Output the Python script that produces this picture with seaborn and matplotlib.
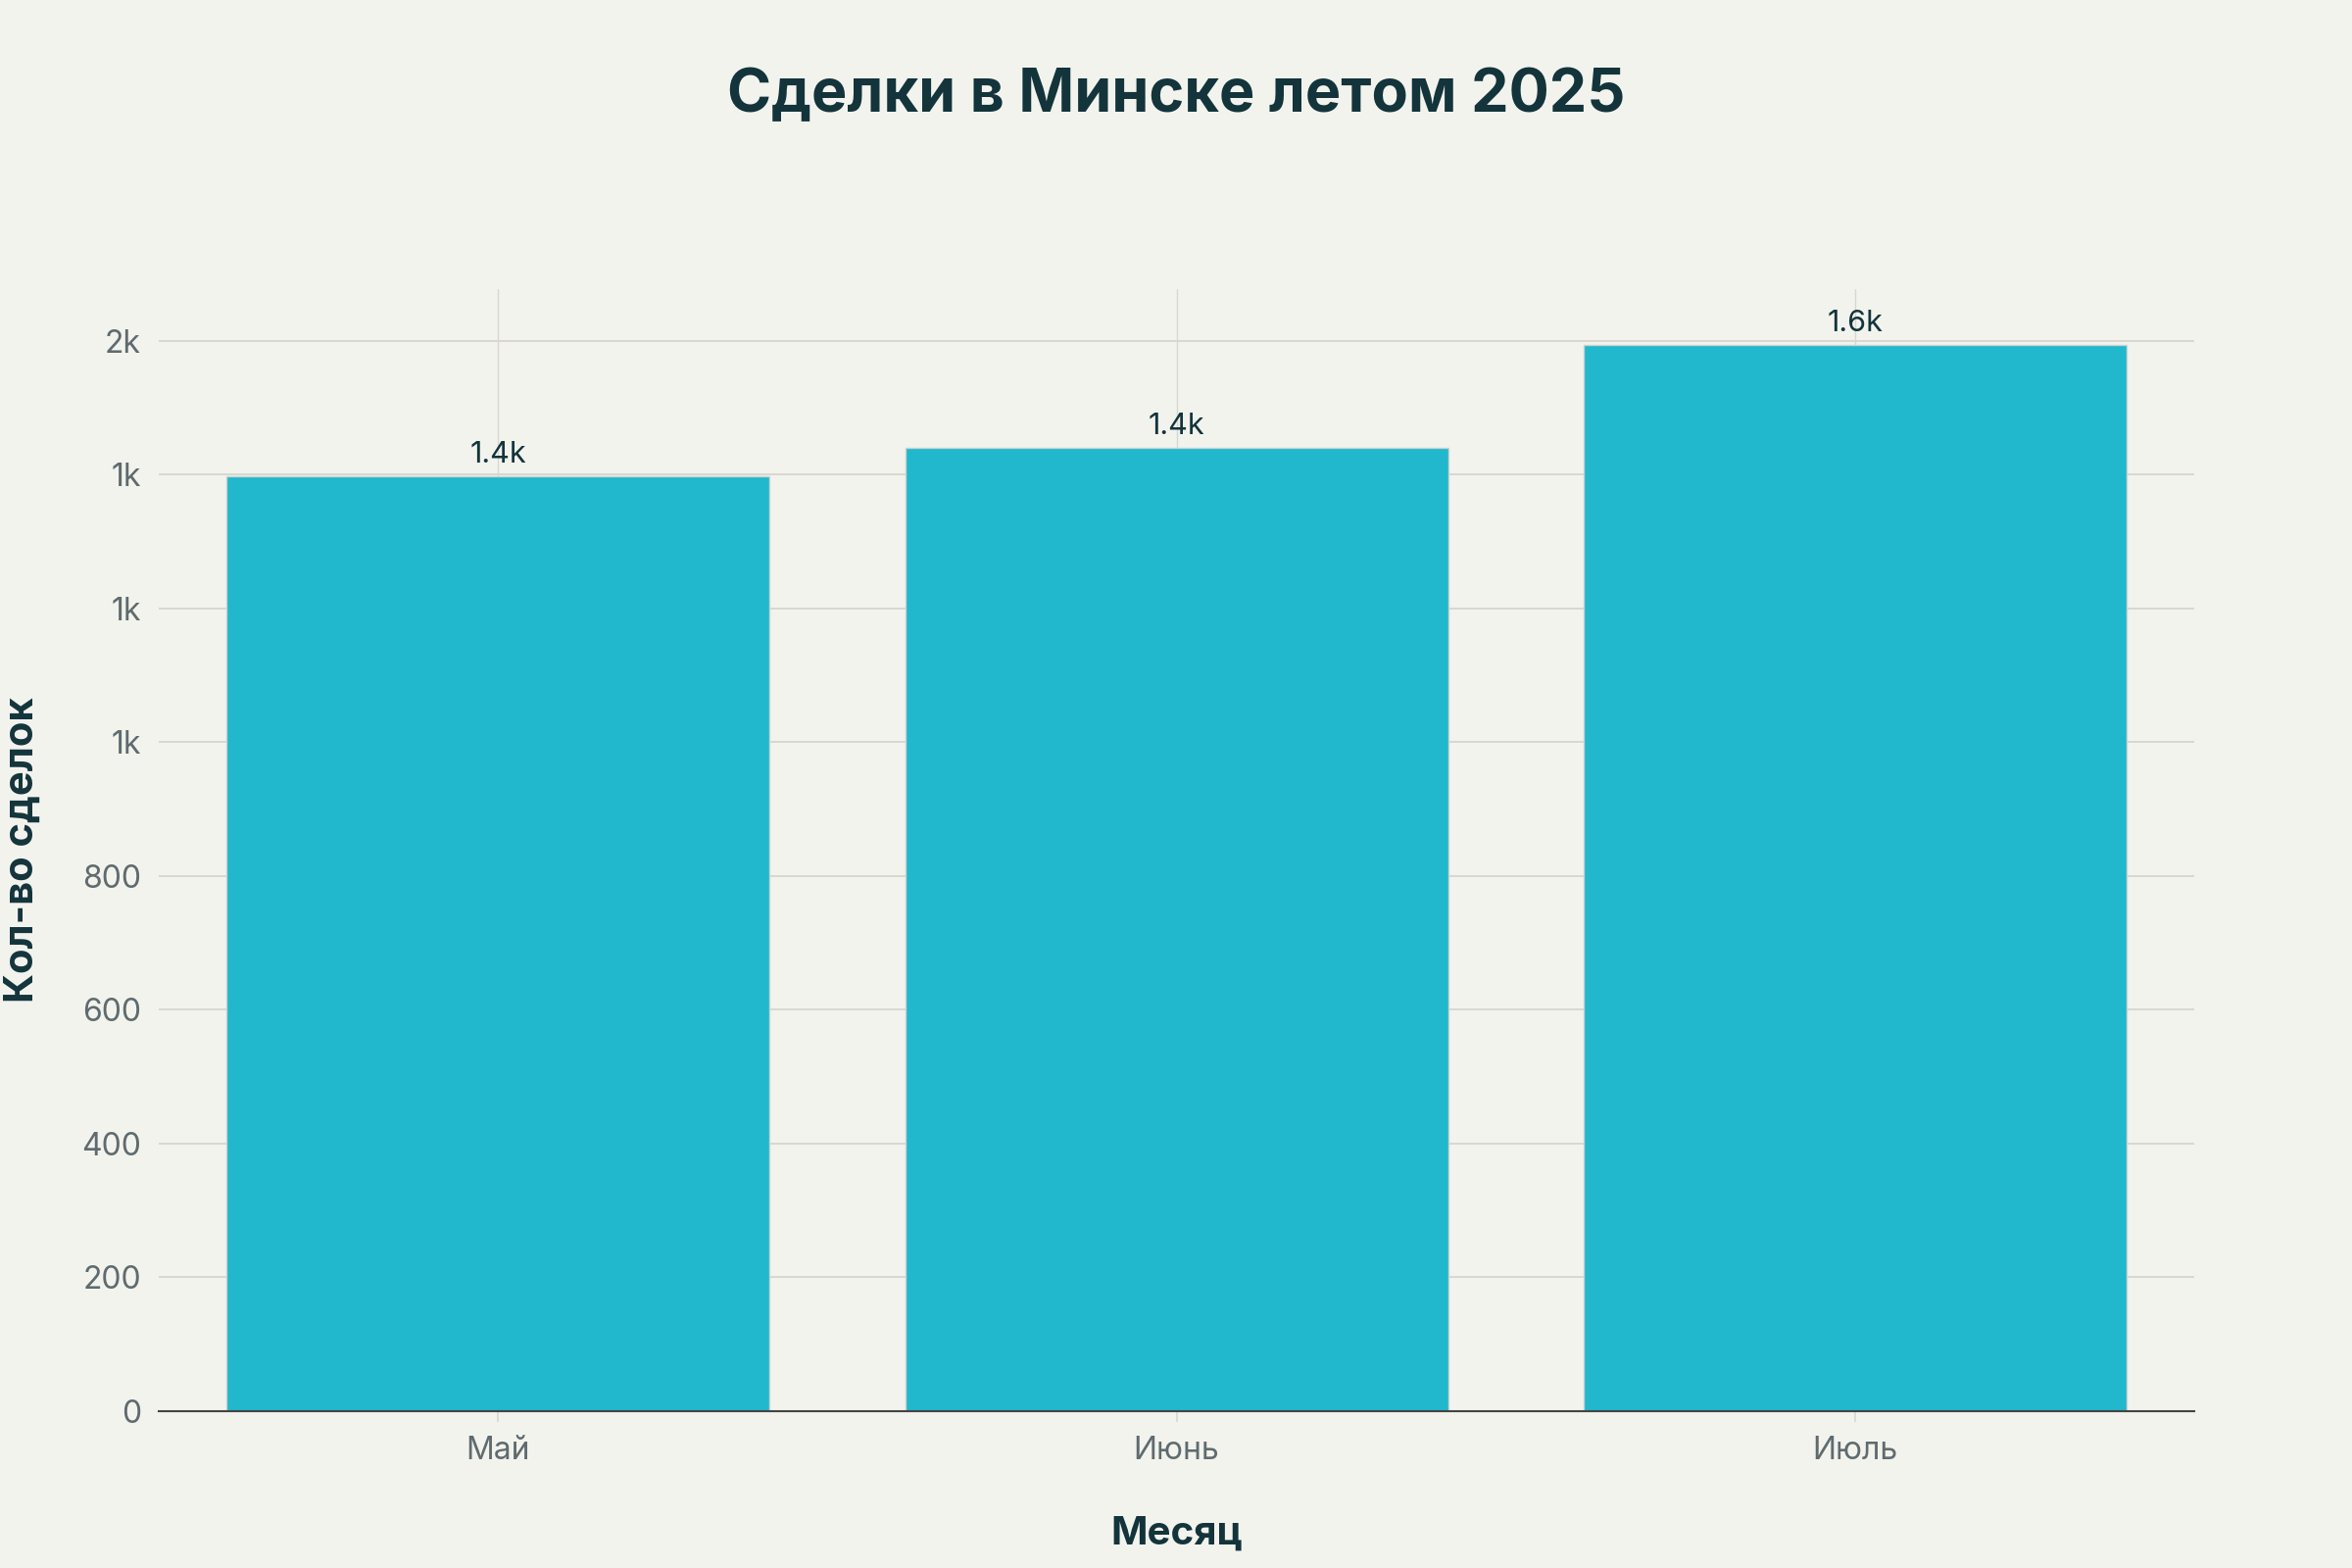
import numpy as np
import pandas as pd
import matplotlib
matplotlib.use("Agg")
import matplotlib.pyplot as plt
import seaborn as sns

# ─── DATA ─────────────────────────────────────────────────────────────────────
MONTHS = ["Май", "Июнь", "Июль"]
DEALS = [1397, 1440, 1593]
BAR_LABELS = ["1.4k", "1.4k", "1.6k"]
Y_TICKS = [0, 200, 400, 600, 800, 1000, 1200, 1400, 1600]
Y_TICK_LABELS = ["0", "200", "400", "600", "800", "1k", "1k", "1k", "2k"]

TITLE = "Сделки в Минске летом 2025"
X_LABEL = "Месяц"
Y_LABEL = "Кол-во сделок"

# ─── STYLE ────────────────────────────────────────────────────────────────────
BG = "#f3f3ee"
BAR = "#21b7cc"
DARK = "#13343b"
GREY = "#5f6b6e"
GRID = "#d9d7d0"

sns.set_theme(style="white")
plt.rcParams["font.family"] = ["Inter", "DejaVu Sans"]

df = pd.DataFrame({"Месяц": MONTHS, "Сделки": DEALS})

fig = plt.figure(figsize=(24, 16), dpi=100, facecolor=BG)
ax = fig.add_axes([0.0675, 0.1, 0.8655, 0.7156], facecolor=BG)

sns.barplot(data=df, x="Месяц", y="Сделки", color=BAR, width=0.8,
            edgecolor="#c9d3d2", linewidth=1.0, saturation=1, ax=ax, zorder=2)

# seaborn switches the grid off on the categorical axis, turn it back on
ax.set_axisbelow(True)
ax.yaxis.grid(True, color=GRID, linewidth=1.4, zorder=0)
ax.xaxis.grid(True, color=GRID, linewidth=1.0, zorder=0)

ax.bar_label(ax.containers[0], labels=BAR_LABELS, padding=6,
             fontsize=22, color=DARK)

ax.set_xlim(-0.5, 2.5)
ax.set_ylim(0, 1677)
ax.set_yticks(Y_TICKS)
ax.set_yticklabels(Y_TICK_LABELS)

for side in ["top", "right", "left"]:
    ax.spines[side].set_visible(False)
ax.spines["bottom"].set_color("#444444")
ax.spines["bottom"].set_linewidth(1.5)
ax.spines["bottom"].set_zorder(3)

ax.tick_params(axis="y", length=5, width=1.4, color=GRID, pad=8,
               labelsize=23, labelcolor=GREY)
ax.tick_params(axis="x", length=8, width=1.2, color=GRID, pad=10,
               labelsize=23, labelcolor=GREY, bottom=True)

ax.set_xlabel(X_LABEL, fontsize=29, fontweight="bold", color=DARK)
ax.set_ylabel(Y_LABEL, fontsize=30, fontweight="bold", color=DARK)
ax.xaxis.set_label_coords(0.5, -0.093)
ax.yaxis.set_label_coords(-0.058, 0.5)

fig.text(0.5, 0.939, TITLE, ha="center", va="center", fontsize=44,
         fontweight="bold", color=DARK)

fig.savefig("out.png", dpi=100, facecolor=BG)
